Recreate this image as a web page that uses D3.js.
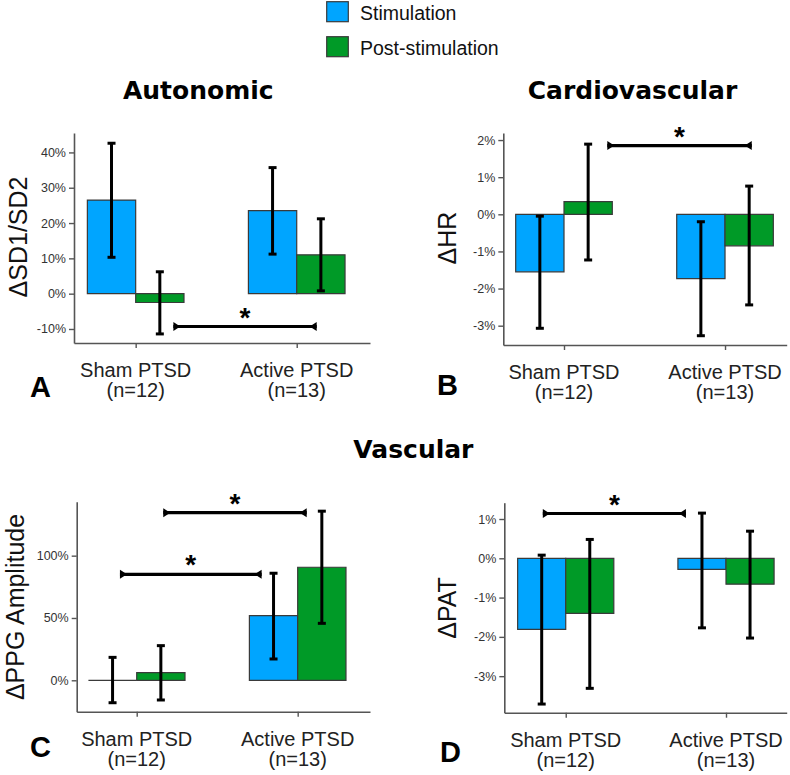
<!DOCTYPE html>
<html><head><meta charset="utf-8">
<script src="https://cdn.jsdelivr.net/npm/d3@7"></script>
<style>body{margin:0;background:#fff} svg{display:block}</style>
</head><body><svg id="c" width="790" height="775"></svg>
<script>
// ---------- data ----------
const categories = ["Sham PTSD", "Active PTSD"];
const groupSizes = ["(n=12)", "(n=13)"];
const seriesNames = ["Stimulation", "Post-stimulation"];
const seriesColors = ["#00A5FF", "#009A27"];

// A: ΔSD1/SD2 (%)
const sdStim = [26.5, 23.5], sdStimLo = [10.3, 11.2], sdStimHi = [42.6, 35.7];
const sdPost = [-2.5, 11.0], sdPostLo = [-11.4, 0.8], sdPostHi = [6.2, 21.2];
const sdTicks = [-10, 0, 10, 20, 30, 40];
const sdSig = [[0.234, 1.124, -9.3]];

// B: ΔHR (%)
const hrStim = [-1.55, -1.73], hrStimLo = [-3.07, -3.27], hrStimHi = [-0.05, -0.2];
const hrPost = [0.34, -0.85], hrPostLo = [-1.23, -2.44], hrPostHi = [1.89, 0.76];
const hrTicks = [-3, -2, -1, 0, 1, 2];
const hrSig = [[0.269, 1.166, 1.85]];

// C: ΔPPG Amplitude (%)
const ppgStim = [0, 51.9], ppgStimLo = [-18, 17.1], ppgStimHi = [18.4, 85.9];
const ppgPost = [6.1, 90.7], ppgPostLo = [-15.8, 45.7], ppgPostHi = [27.8, 135.7];
const ppgTicks = [0, 50, 100];
const ppgSig = [[-0.104, 0.776, 85], [0.165, 1.056, 134.5]];

// D: ΔPAT (%)
const patStim = [-1.81, -0.28], patStimLo = [-3.71, -1.77], patStimHi = [0.08, 1.15];
const patPost = [-1.40, -0.66], patPostLo = [-3.31, -2.03], patPostHi = [0.48, 0.69];
const patTicks = [-3, -2, -1, 0, 1];
const patSig = [[-0.143, 0.75, 1.14]];

// ---------- layout ----------
const svg = d3.select("#c");
const FONT = "'Liberation Sans', Arial, Helvetica, sans-serif";

const panels = [
  {letter:"A", ylabel:"ΔSD1/SD2", left:74, right:370, top:133, bottom:343, yDomain:[-13.97,45.5], pad:0.419, align:0.457,
   ticks:sdTicks, sig:sdSig, stim:[sdStim,sdStimLo,sdStimHi], post:[sdPost,sdPostLo,sdPostHi],
   ylx:27, yly:237, lx:30, ly:397},
  {letter:"B", ylabel:"ΔHR", left:503.3, right:786.7, top:133, bottom:345, yDomain:[-3.52,2.19], pad:0.38, align:0.496,
   ticks:hrTicks, sig:hrSig, stim:[hrStim,hrStimLo,hrStimHi], post:[hrPost,hrPostLo,hrPostHi],
   ylx:456, yly:238, lx:437, ly:395},
  {letter:"C", ylabel:"ΔPPG Amplitude", left:76.7, right:370, top:501.7, bottom:711.7, yDomain:[-25.2,143.3], pad:0.411, align:0.4535,
   ticks:ppgTicks, sig:ppgSig, stim:[ppgStim,ppgStimLo,ppgStimHi], post:[ppgPost,ppgPostLo,ppgPostHi],
   ylx:24, yly:607, lx:30, ly:757},
  {letter:"D", ylabel:"ΔPAT", left:504.3, right:786.7, top:502.7, bottom:712.7, yDomain:[-3.93,1.415], pad:0.381, align:0.503,
   ticks:patTicks, sig:patSig, stim:[patStim,patStimLo,patStimHi], post:[patPost,patPostLo,patPostHi],
   ylx:456, yly:608, lx:440, ly:762}
];

function drawPanel(cfg) {
  const g = svg.append("g");
  const y = d3.scaleLinear().domain(cfg.yDomain).range([cfg.bottom, cfg.top]);
  const x = d3.scalePoint().domain(categories).range([cfg.left, cfg.right]).padding(cfg.pad).align(cfg.align);
  const step = x.step();
  const bw = step * 0.3;
  const sub = d3.scaleBand().domain(seriesNames).range([-bw, bw]);

  const rows = [];
  [cfg.stim, cfg.post].forEach((s, si) => {
    categories.forEach((c, ci) => {
      rows.push({cat:c, series:seriesNames[si], color:seriesColors[si], v:s[0][ci], lo:s[1][ci], hi:s[2][ci]});
    });
  });

  // bars (paths so zero-height bars still show their outline)
  g.selectAll("path.bar").data(rows).join("path")
    .attr("class","bar")
    .attr("d", d => {
      const x0 = x(d.cat) + sub(d.series), x1 = x0 + sub.bandwidth();
      const y0 = y(0), y1 = y(d.v);
      return `M${x0},${y0}H${x1}V${y1}H${x0}Z`;
    })
    .attr("fill", d => d.color)
    .attr("stroke", "#3a3a3a")
    .attr("stroke-width", 1.2);

  // error bars
  const eb = g.selectAll("g.err").data(rows).join("g").attr("class","err")
    .attr("stroke","#000").attr("stroke-width",3);
  const cx = d => x(d.cat) + sub(d.series) + sub.bandwidth()/2;
  eb.append("line").attr("x1",cx).attr("x2",cx).attr("y1",d=>y(d.lo)).attr("y2",d=>y(d.hi));
  eb.append("line").attr("x1",d=>cx(d)-4).attr("x2",d=>cx(d)+4).attr("y1",d=>y(d.lo)).attr("y2",d=>y(d.lo));
  eb.append("line").attr("x1",d=>cx(d)-4).attr("x2",d=>cx(d)+4).attr("y1",d=>y(d.hi)).attr("y2",d=>y(d.hi));

  // axes
  const ya = d3.axisLeft(y).tickValues(cfg.ticks).tickFormat(d => d + "%").tickSize(5).tickPadding(3).tickSizeOuter(0);
  const yg = g.append("g").attr("transform", `translate(${cfg.left},0)`).call(ya);
  const xa = d3.axisBottom(x).tickFormat("").tickSize(5).tickSizeOuter(0);
  const xg = g.append("g").attr("transform", `translate(0,${cfg.bottom})`).call(xa);
  [yg, xg].forEach(a => {
    a.select(".domain").attr("stroke","#555").attr("stroke-width",1.6);
    a.selectAll(".tick line").attr("stroke","#555").attr("stroke-width",1.4);
  });
  yg.selectAll(".tick text").attr("font-family",FONT).attr("font-size",12.5).attr("fill","#333");

  // category labels
  categories.forEach((c, i) => {
    g.append("text").attr("x", x(c)).attr("y", cfg.bottom + 34).attr("text-anchor","middle")
      .attr("font-family",FONT).attr("font-size",20).attr("fill","#222").text(c);
    g.append("text").attr("x", x(c)).attr("y", cfg.bottom + 54).attr("text-anchor","middle")
      .attr("font-family",FONT).attr("font-size",20).attr("fill","#222").text(groupSizes[i]);
  });

  // y label
  g.append("text").attr("transform", `translate(${cfg.ylx},${cfg.yly}) rotate(-90)`)
    .attr("text-anchor","middle").attr("font-family",FONT).attr("font-size",25).attr("fill","#111").text(cfg.ylabel);

  // panel letter
  g.append("text").attr("x", cfg.lx).attr("y", cfg.ly).attr("font-family",FONT).attr("font-weight","bold")
    .attr("font-size",29).attr("fill","#000").text(cfg.letter);

  // significance brackets
  const base = x(categories[0]);
  cfg.sig.forEach(s => {
    const x1 = base + s[0]*step, x2 = base + s[1]*step, yy = y(s[2]);
    g.append("line").attr("x1",x1).attr("x2",x2).attr("y1",yy).attr("y2",yy).attr("stroke","#000").attr("stroke-width",3.2);
    g.append("path").attr("d",`M${x1},${yy-4.5}L${x1+7},${yy}L${x1},${yy+4.5}Z`).attr("fill","#000");
    g.append("path").attr("d",`M${x2},${yy-4.5}L${x2-7},${yy}L${x2},${yy+4.5}Z`).attr("fill","#000");
    g.append("text").attr("x",(x1+x2)/2).attr("y",yy).attr("text-anchor","middle")
      .attr("font-family",FONT).attr("font-weight","bold").attr("font-size",28).text("*");
  });
}
panels.forEach(drawPanel);

// titles
const TFONT = "'DejaVu Sans', Verdana, sans-serif";
[["Autonomic",198.3,99.3],["Cardiovascular",632.5,99],["Vascular",413.4,458]].forEach(t => {
  svg.append("text").attr("x",t[1]).attr("y",t[2]).attr("text-anchor","middle")
    .attr("font-family",TFONT).attr("font-weight","bold").attr("font-size",25).attr("fill","#000").text(t[0]);
});

// legend
seriesNames.forEach((s, i) => {
  svg.append("rect").attr("x",326.7).attr("y",1.7 + i*35).attr("width",21.6).attr("height",20)
    .attr("fill",seriesColors[i]).attr("stroke","#3a3a3a").attr("stroke-width",1.2);
  svg.append("text").attr("x",360).attr("y",19.5 + i*35).attr("font-family",FONT).attr("font-size",19.5)
    .attr("fill","#111").text(s);
});
</script>
</body></html>
